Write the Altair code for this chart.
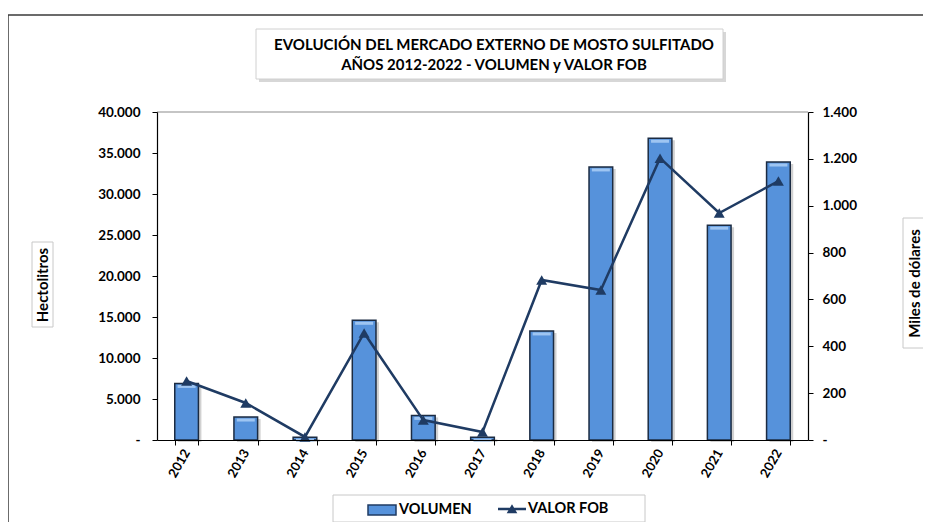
import altair as alt
import pandas as pd

years = ["2012", "2013", "2014", "2015", "2016", "2017", "2018", "2019", "2020", "2021", "2022"]
volumen = [6900, 2800, 350, 14600, 3000, 350, 13300, 33300, 36800, 26200, 33900]
valor_fob = [252, 158, 13, 457, 85, 34, 683, 640, 1203, 969, 1105]
series = ["VOLUMEN", "VALOR FOB"]
bar_color = "#5692db"
line_color = "#1f3b63"
left_ticks = [0, 5000, 10000, 15000, 20000, 25000, 30000, 35000, 40000]
right_ticks = [0, 200, 400, 600, 800, 1000, 1200, 1400]

W, H = 651, 328
FONT = "Lato"

df_v = pd.DataFrame({"anio": years, "volumen": volumen, "serie": series[0]})
df_f = pd.DataFrame({"anio": years, "valor": valor_fob, "serie": series[1]})
one = pd.DataFrame({"k": [0]})

label_expr = "datum.value == 0 ? '-' : replace(format(datum.value, ',.0f'), ',', '.')"

x_enc = alt.X(
    "anio:N", sort=years,
    scale=alt.Scale(paddingInner=0.6, paddingOuter=0.3),
    axis=alt.Axis(title=None, labelAngle=300, labelAlign="right", labelBaseline="middle",
                  tickBand="extent", labelFontSize=13, labelFontWeight="bold", labelFont=FONT,
                  labelColor="black", labelPadding=5, tickSize=5, domainColor="black",
                  tickColor="black", domainWidth=1.2, zindex=1),
)

common_legend = dict(title=None, orient="none", legendY=383, direction="horizontal",
                     symbolSize=784, labelFontSize=14.5, labelFont=FONT, labelFontWeight="bold",
                     labelColor="black", labelOffset=2, padding=0, symbolOpacity=1)
legend_v = alt.Legend(legendX=210, symbolType="M-1,-0.36H1V0.36H-1Z",
                      symbolStrokeColor=line_color, symbolStrokeWidth=1.5, **common_legend)
legend_f = alt.Legend(legendX=341,
                      symbolType="M-1,-0.09H1V0.09H-1ZM-0.38,0.3L0,-0.34L0.38,0.3Z",
                      symbolStrokeWidth=0, **common_legend)


def box(x1, y1, x2, y2, stroke="#c8c8c8", fill="white", sw=1.0, opacity=1.0):
    kw = dict(fill=fill, strokeWidth=sw, opacity=opacity)
    if stroke:
        kw["stroke"] = stroke
    return alt.Chart(one).mark_rect(**kw).encode(
        x=alt.value(x1), x2=alt.value(x2), y=alt.value(y1), y2=alt.value(y2))


def rule(x1, y1, x2, y2, color, sw):
    return alt.Chart(one).mark_rule(color=color, strokeWidth=sw).encode(
        x=alt.value(x1), x2=alt.value(x2), y=alt.value(y1), y2=alt.value(y2))


border_top = rule(-149, -97, W + 400, -97, "#3a3a3a", 1.5)
border_left = rule(-149, -97, -149, H + 300, "#3a3a3a", 1.5)
title_shadow = box(102, -80, 569, -30, stroke=None, fill="#bdbdbd", opacity=0.6)
title_box = box(99, -83, 566, -33, stroke="#d0d0d0")
ltitle_box = box(-125, 130, -104, 215)
rtitle_box = box(746, 106, 768, 236)
legend_box = box(176, 383, 488, 410)
top_line = rule(0, 0, W, 0, "#8c8c8c", 1.2)

title_text = alt.Chart(one).mark_text(
    font=FONT, fontSize=15, fontWeight="bold", color="black", lineHeight=20, baseline="middle"
).encode(
    x=alt.value(337), y=alt.value(-67),
    text=alt.value(["EVOLUCIÓN DEL MERCADO EXTERNO DE MOSTO SULFITADO", "AÑOS 2012-2022 - VOLUMEN y VALOR FOB"]),
)

y_left_scale = alt.Scale(domain=[0, 40000], nice=False)

bar_shadow = alt.Chart(df_v).mark_bar(color="#000000", opacity=0.18, xOffset=3, yOffset=2).encode(
    x=x_enc,
    y=alt.Y("volumen:Q", scale=y_left_scale, axis=None),
)

bars = alt.Chart(df_v).mark_bar(stroke="#1b2b42", strokeWidth=1.5).encode(
    x=x_enc,
    y=alt.Y("volumen:Q", scale=y_left_scale,
            axis=alt.Axis(values=left_ticks, title="Hectolitros", titleX=-114.5, titleY=172.5,
                          titleAngle=270, titleAlign="center", titleBaseline="middle",
                          titleFontSize=15, titleFont=FONT, titleFontWeight="bold", titleColor="black",
                          labelExpr=label_expr, labelFontSize=13.5, labelFont=FONT, labelFontWeight="bold",
                          labelColor="black", labelPadding=12, tickSize=5, grid=False,
                          domainColor="black", tickColor="black", domainWidth=1.2, zindex=1)),
    fill=alt.Fill("serie:N", scale=alt.Scale(domain=[series[0]], range=[bar_color]), legend=legend_v),
)

bar_highlight = alt.Chart(df_v).mark_tick(color="#a6cbf4", thickness=3, size=18, yOffset=3, opacity=0.9).encode(
    x=x_enc,
    y=alt.Y("volumen:Q", scale=y_left_scale, axis=None),
)

y_right = alt.Y("valor:Q", scale=alt.Scale(domain=[0, 1400], nice=False),
                axis=alt.Axis(orient="right", values=right_ticks, title="Miles de dólares",
                              titleX=106, titleY=171, titleAngle=270, titleAlign="center",
                              titleBaseline="middle", titleFontSize=15, titleFont=FONT,
                              titleFontWeight="bold", titleColor="black",
                              labelExpr=label_expr, labelFontSize=13.5, labelFont=FONT,
                              labelFontWeight="bold", labelColor="black", labelPadding=9,
                              tickSize=5, grid=False, domainColor="black", tickColor="black",
                              domainWidth=1.2, zindex=1))

line = alt.Chart(df_f).mark_line(strokeWidth=2.5, color=line_color).encode(x=x_enc, y=y_right)
points = alt.Chart(df_f).mark_point(shape="triangle-up", filled=True, size=120, opacity=1).encode(
    x=x_enc, y=y_right,
    fill=alt.Fill("serie:N", scale=alt.Scale(domain=[series[1]], range=[line_color]), legend=legend_f),
)

chart = alt.layer(
    border_top, border_left, title_shadow, title_box, ltitle_box, rtitle_box, legend_box, top_line,
    title_text, bar_shadow, bars, bar_highlight, alt.layer(line, points),
).resolve_scale(y="independent", fill="independent").properties(
    width=W, height=H,
    autosize=alt.AutoSizeParams(type="none"),
    padding={"left": 149, "top": 104, "right": 115, "bottom": 82},
).configure_view(stroke=None)

chart.save("out.html", embed_options={"renderer": "svg", "actions": False})
